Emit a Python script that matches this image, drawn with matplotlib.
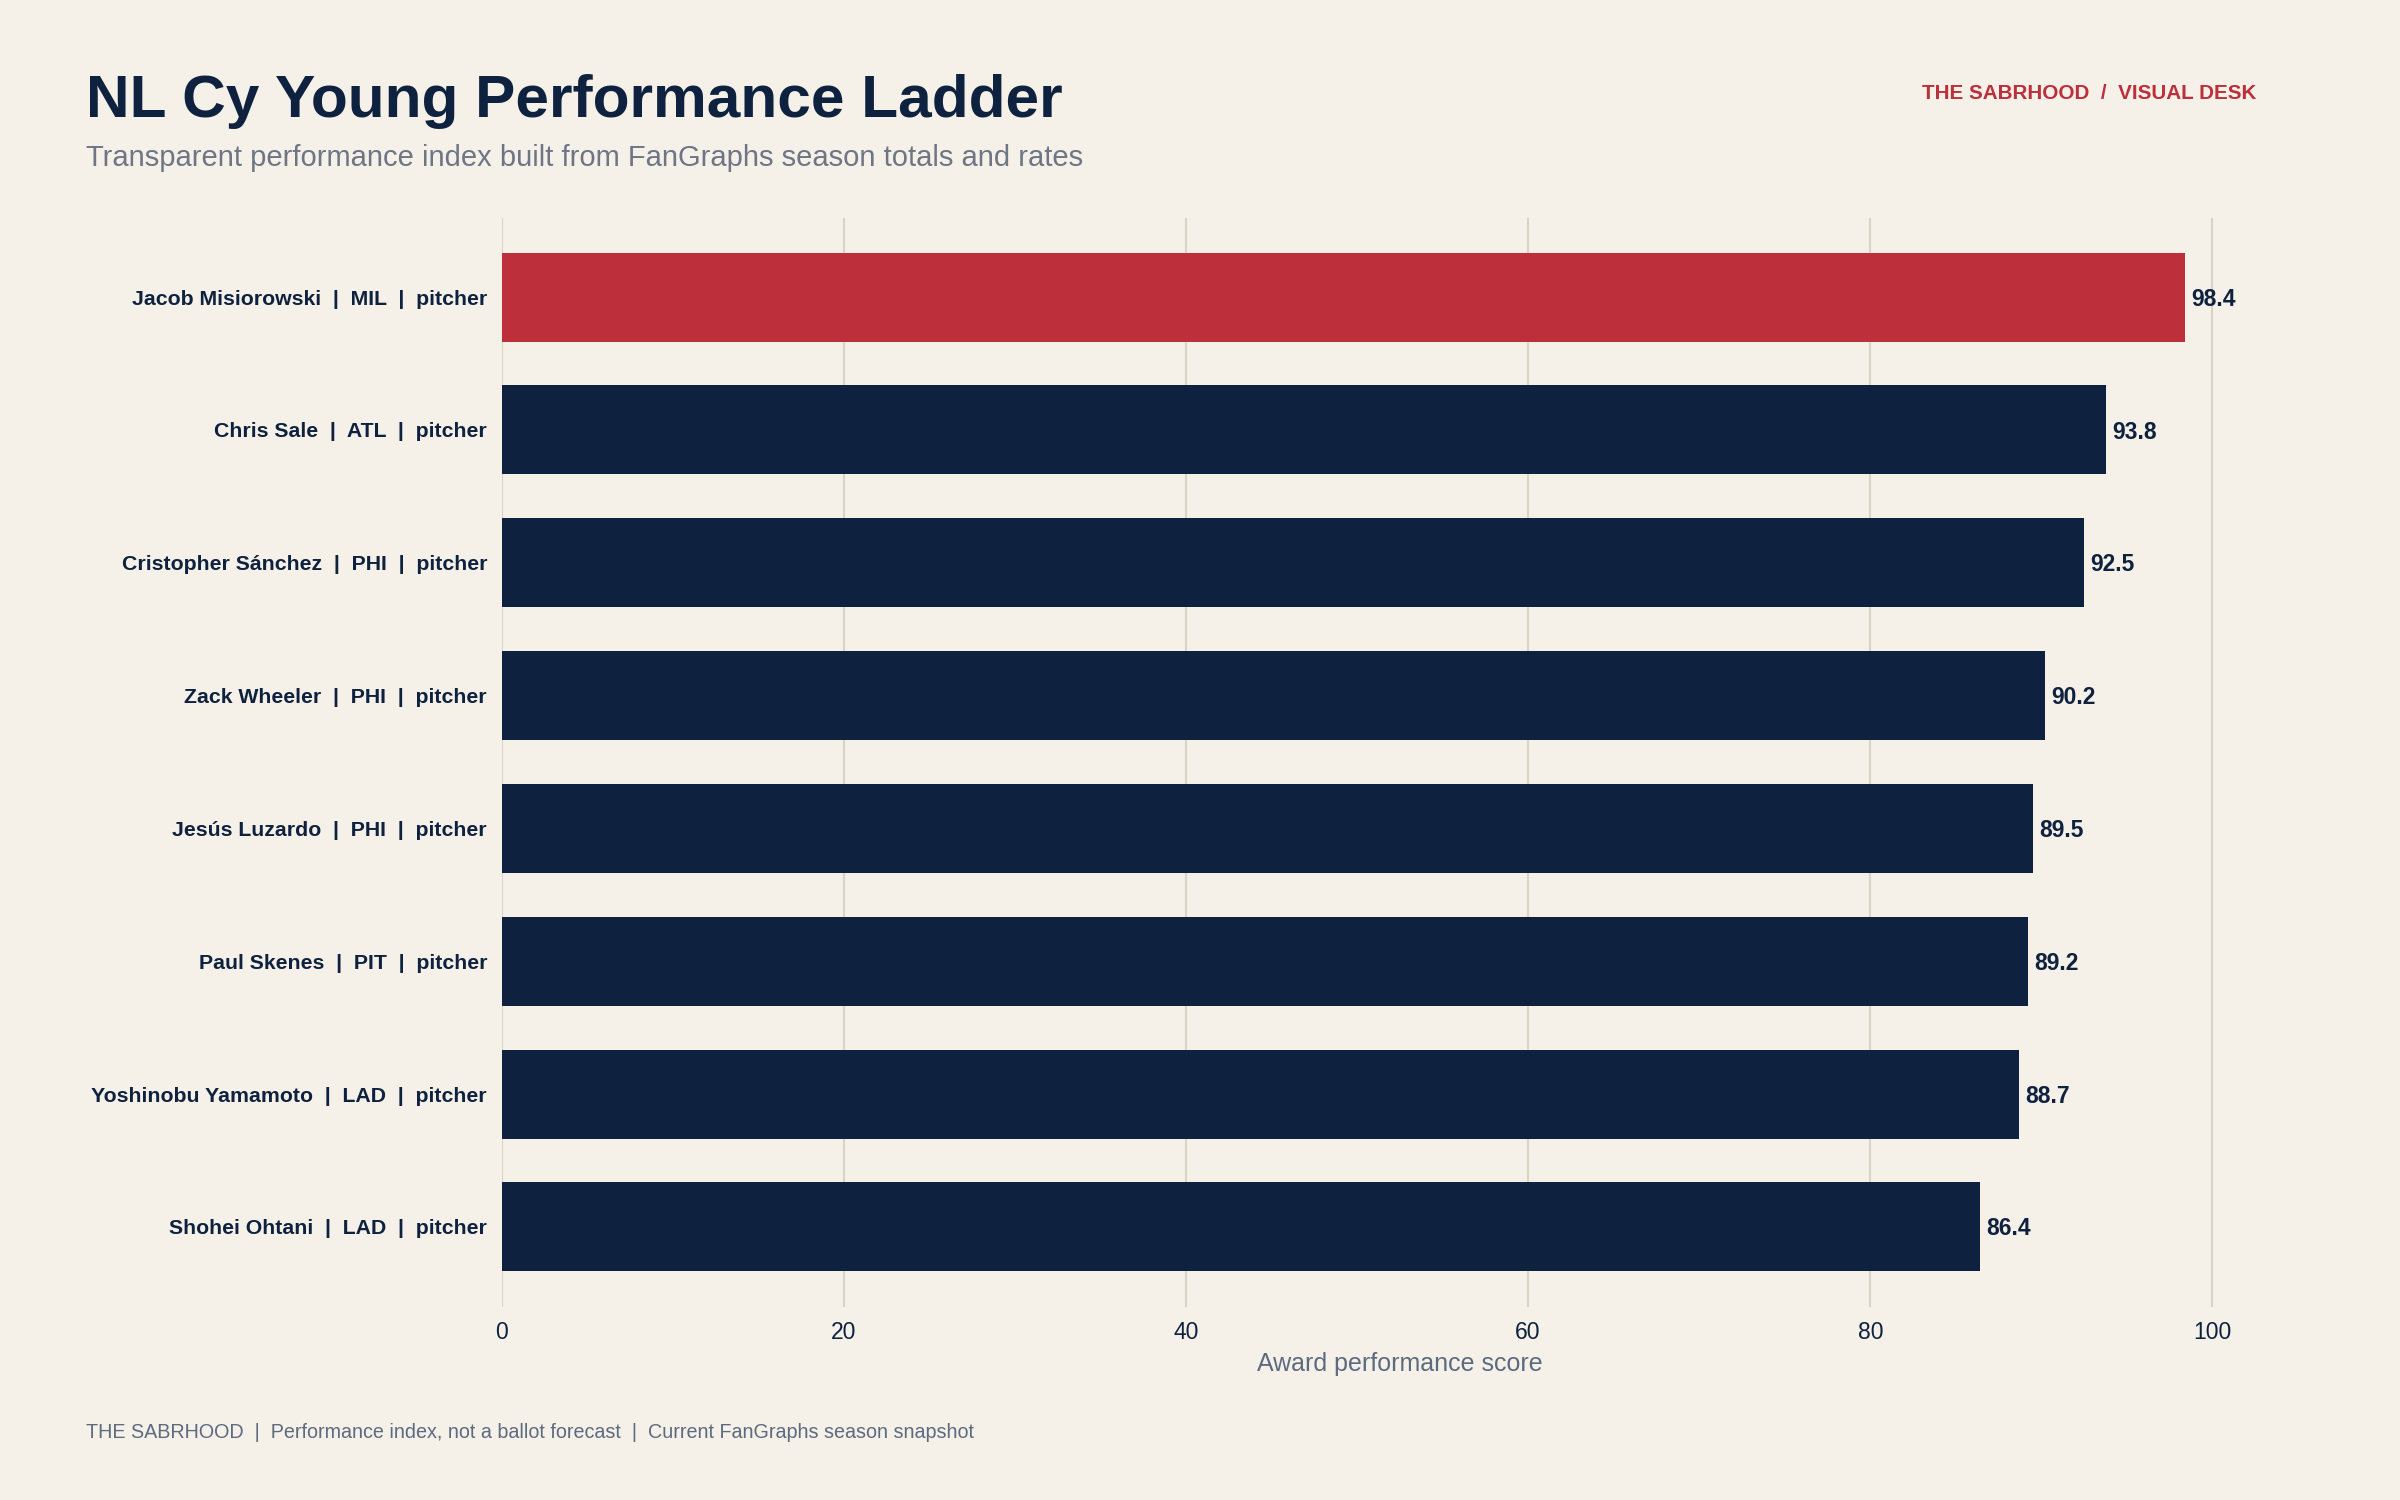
# NL Cy Young performance ladder — horizontal bar chart

import matplotlib.pyplot as plt

# Data
PLAYERS = ['Jacob Misiorowski', 'Chris Sale', 'Cristopher Sánchez', 'Zack Wheeler',
           'Jesús Luzardo', 'Paul Skenes', 'Yoshinobu Yamamoto', 'Shohei Ohtani']
TEAMS = ['MIL', 'ATL', 'PHI', 'PHI', 'PHI', 'PIT', 'LAD', 'LAD']
ROLES = ['pitcher'] * 8
SCORES = [98.4, 93.8, 92.5, 90.2, 89.5, 89.2, 88.7, 86.4]
X_TICKS = [0, 20, 40, 60, 80, 100]

# Colors
BG = '#F5F0E8'
NAVY = '#0E223F'
RED = '#BD2F3A'
GRID = '#D9D4C6'
SUB_GRAY = '#6E7685'
FOOT_GRAY = '#5C6B80'

plt.rcParams['font.family'] = ['Liberation Sans', 'DejaVu Sans']

fig = plt.figure(figsize=(16, 10), dpi=150, facecolor=BG)
ax = fig.add_axes([0.209, 0.129, 0.7485, 0.726], facecolor=BG)

labels = [f'{p}  |  {t}  |  {r}' for p, t, r in zip(PLAYERS, TEAMS, ROLES)]
colors = [RED if i == 0 else NAVY for i in range(len(SCORES))]
y_pos = list(range(len(SCORES)))

ax.barh(y_pos, SCORES, height=0.67, color=colors, zorder=3)

for y, v in zip(y_pos, SCORES):
    ax.annotate(f'{v:.1f}', (v, y), xytext=(3, -1), textcoords='offset points',
                va='center', ha='left', fontsize=11, fontweight='bold', color=NAVY, zorder=4)

ax.set_xlim(0, 105)
ax.set_ylim(len(SCORES) - 0.4, -0.6)
ax.set_xticks(X_TICKS)
ax.set_yticks(y_pos)
ax.set_yticklabels(labels, fontsize=10.2, fontweight='bold', color=NAVY)
ax.tick_params(axis='x', length=0, pad=7, labelsize=11, labelcolor=NAVY)
ax.tick_params(axis='y', length=0, pad=7)
ax.grid(axis='x', color=GRID, linewidth=1.0, zorder=0)
ax.grid(axis='y', visible=False)
for s in ax.spines.values():
    s.set_visible(False)

ax.set_xlabel('Award performance score', fontsize=12, color=FOOT_GRAY, labelpad=4)

# Header and footer text
fig.text(0.036, 0.922, 'NL Cy Young Performance Ladder', fontsize=29,
         fontweight='bold', color=NAVY, ha='left', va='baseline')
fig.text(0.036, 0.889, 'Transparent performance index built from FanGraphs season totals and rates',
         fontsize=14, color=SUB_GRAY, ha='left', va='baseline')
fig.text(0.94, 0.934, 'THE SABRHOOD  /  VISUAL DESK', fontsize=9.9,
         fontweight='bold', color=RED, ha='right', va='baseline')
fig.text(0.036, 0.041,
         'THE SABRHOOD  |  Performance index, not a ballot forecast  |  Current FanGraphs season snapshot',
         fontsize=9.5, color=FOOT_GRAY, ha='left', va='baseline')

fig.savefig('out.png', dpi=150, facecolor=BG)
